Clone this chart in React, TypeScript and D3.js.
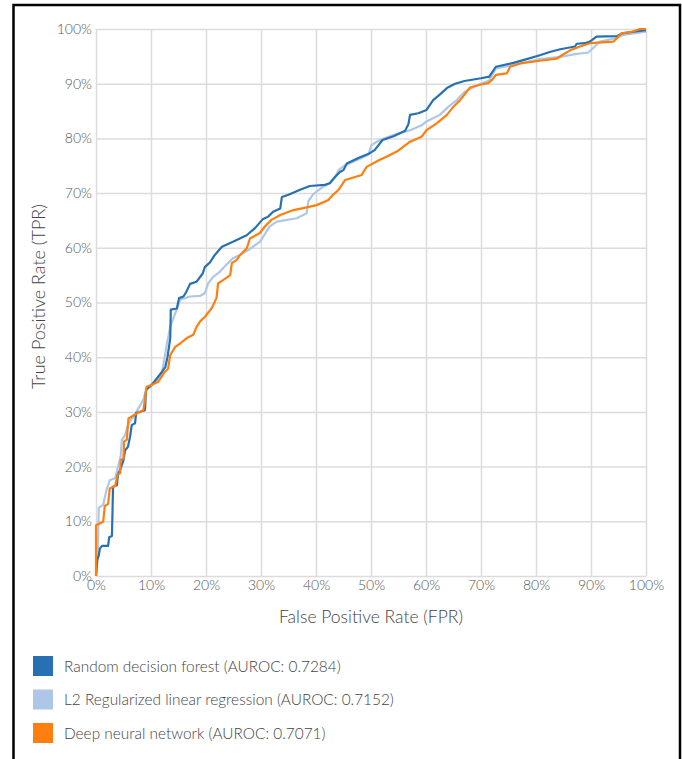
import * as React from 'react';
import * as d3 from 'd3';

// ROC curve points, [FPR %, TPR %]
const forestRoc = [
  [0, 0], [0.2, 2.9], [0.5, 3.7], [0.7, 5], [1.1, 5.5], [2.2, 5.5], [2.4, 7.1], [2.9, 7.3],
  [3.1, 16.3], [3.8, 16.6], [4, 18.6], [4.4, 19.4], [5, 21.2], [5.3, 23], [5.8, 23.6],
  [6.2, 25.5], [6.5, 27.6], [7.1, 27.9], [7.3, 29.8], [8.9, 30.3], [9.1, 34], [10.1, 34.9],
  [11.9, 37.2], [12.6, 38.2], [13, 40], [13.5, 43.5], [13.6, 48.7], [14.7, 48.9], [15.1, 50.8],
  [15.9, 51.1], [16.4, 51.9], [17.1, 53.4], [18.3, 53.8], [19.4, 55.3], [19.8, 56.5], [20.7, 57.3],
  [21.6, 58.7], [22.9, 60.2], [24.9, 61.1], [27.4, 62.3], [28.9, 63.6], [30.3, 65.2], [31.3, 65.7],
  [32.2, 66.6], [33.5, 67.2], [33.8, 69.3], [35, 69.7], [37.1, 70.6], [38.9, 71.3], [41.6, 71.5],
  [42.5, 71.8], [43.5, 73], [44.4, 73.9], [45, 74.2], [45.6, 75.4], [47.7, 76.4], [49.8, 77.3],
  [50.7, 77.9], [52.1, 79.7], [54.1, 80.4], [56.2, 81.4], [56.8, 82.6], [57.1, 84.3], [58.6, 84.6],
  [60.1, 85.2], [61.3, 87], [62.5, 88], [63.8, 89.2], [65.3, 90], [67, 90.5], [70, 91],
  [71.5, 91.3], [72.7, 93.1], [75.9, 93.8], [78.3, 94.5], [80.7, 95.2], [82.5, 95.8], [84.4, 96.3],
  [87.1, 96.8], [87.4, 97.3], [88.9, 97.4], [89.8, 97.7], [91, 98.6], [94.7, 98.7], [95.6, 99.2],
  [97.8, 99.5], [100, 99.8]
];

const linearRoc = [
  [0, 0], [0.3, 3], [0.5, 12.5], [1.3, 13], [1.9, 15.7], [2.5, 17.5], [3.5, 17.9], [3.8, 19.1],
  [4.5, 22], [4.7, 24.9], [5.3, 25.8], [5.9, 27.9], [6.8, 29.1], [8.6, 32.2], [9.2, 34.3],
  [11, 35.8], [11.9, 36.7], [12.5, 40.1], [13, 43.1], [13.1, 43.5], [13.5, 45.6], [14.4, 48],
  [15.3, 50.5], [17.1, 51.1], [18.9, 51.2], [19.8, 51.7], [20.4, 53.5], [21.3, 54.7], [22.5, 55.6],
  [24, 57.2], [24.9, 58.1], [26.2, 58.7], [27.7, 59.6], [29.8, 61.1], [31.6, 63.9], [32.9, 64.8],
  [34.7, 65.1], [36.5, 65.4], [38.3, 66.3], [38.6, 68.5], [39.5, 69.8], [41.3, 71.2], [42.5, 71.8],
  [43.5, 73], [44.1, 74.2], [45.3, 75.1], [47.4, 76], [49.5, 77], [50.1, 78.8], [51.6, 79.7],
  [54.1, 80.6], [57.1, 81.5], [59.2, 82.4], [60.1, 83.1], [62.5, 84.3], [64.1, 85.8], [65.6, 87],
  [67, 88.5], [68.5, 89.3], [70, 90], [71.5, 90.6], [72.7, 92.8], [75.8, 93.4], [80.7, 94.5],
  [84.4, 94.9], [87.1, 95.4], [89.5, 95.7], [90.7, 96.8], [91.6, 97.7], [94.4, 98.3], [95.9, 98.9],
  [100, 99.5]
];

const neuralRoc = [
  [0, 0], [0, 9.3], [1.3, 9.9], [1.6, 12.8], [2.2, 13.2], [2.5, 16], [3.5, 16.5], [3.9, 18.5],
  [4.4, 18.8], [4.5, 21.2], [5, 21.5], [5.1, 24.6], [5.6, 24.9], [5.9, 28.8], [7.4, 29.7],
  [8.6, 30.3], [8.9, 32.2], [9.2, 34.6], [10.1, 34.9], [11.3, 35.5], [11.9, 36.4], [12.5, 37.3],
  [13.1, 37.9], [13.5, 40.4], [14.4, 41.9], [15.3, 42.5], [16.5, 43.5], [17.7, 44.1], [18.3, 45.6],
  [18.9, 46.5], [19.8, 47.4], [21, 48.9], [21.3, 49.5], [21.9, 50.8], [22.2, 53.5], [23.1, 54.1],
  [24.4, 55], [24.7, 57.2], [25.6, 57.8], [26.2, 58.7], [27.4, 59.9], [28, 61.7], [29.8, 62.7],
  [30.7, 63.9], [31.9, 65.1], [33.5, 66], [35.9, 66.9], [38.3, 67.4], [40.1, 67.8], [42.2, 68.7],
  [43.1, 69.7], [44.1, 70.6], [45.3, 72.4], [48.3, 73.3], [49.2, 74.8], [51.6, 76.1], [52.9, 76.7],
  [54.7, 77.6], [57.1, 79.4], [59.2, 80.3], [60.1, 81.5], [62, 82.8], [63.8, 84.3], [65, 85.8],
  [66.2, 87], [67, 88], [68, 89.3], [69.8, 89.8], [71.3, 90.1], [72, 90.7], [72.7, 91.6],
  [74.7, 91.9], [75.3, 93.1], [77.1, 93.7], [80.7, 94.2], [83.8, 94.6], [84.7, 95.2], [86.2, 96.1],
  [88, 96.8], [89.8, 97.4], [94.1, 97.7], [95.6, 99.2], [97.4, 99.5], [98.9, 100], [100, 100]
];

const seriesNames = [
  'Random decision forest (AUROC: 0.7284)',
  'L2 Regularized linear regression (AUROC: 0.7152)',
  'Deep neural network (AUROC: 0.7071)'
];
const seriesColors = ['#2771b2', '#aec7e8', '#ff7f0e'];
const tickValues = [0, 10, 20, 30, 40, 50, 60, 70, 80, 90, 100];

export default class App extends React.Component {

  constructor(params) {
    super(params)

    this.svgRef = React.createRef();
    this.width = 682;
    this.height = 759;
    this.margin = {
      top: 29,
      left: 96,
      right: 36,
      bottom: 183
    };
    this.innerWidth = this.width - this.margin.left - this.margin.right;
    this.innerHeight = this.height - this.margin.top - this.margin.bottom;
  }

  init() {
    const {innerWidth, innerHeight, width, height, margin} = this;

    const svg = d3.select(this.svgRef.current)
      .attr('width', width)
      .attr('height', height)
      .style('font-family', 'Lato, sans-serif');
    svg.selectAll('*').remove();

    // frame around the figure (cut off at the bottom)
    svg.append('path')
      .attr('d', `M13.5,${height} V5 H680 V${height}`)
      .attr('fill', 'none')
      .attr('stroke', '#000')
      .attr('stroke-width', 2.5);

    const xScale = d3.scaleLinear().domain([0, 100]).range([0, innerWidth]);
    const yScale = d3.scaleLinear().domain([0, 100]).range([innerHeight, 0]);

    this.mainGroup = svg.append('g')
      .attr('transform', `translate(${margin.left}, ${margin.top})`);

    this.initAxes(xScale, yScale);

    const line = d3.line()
      .x(d => xScale(d[0]))
      .y(d => yScale(d[1]));

    // drawing order: light blue below, orange on top
    const curves = [
      {data: linearRoc, color: seriesColors[1]},
      {data: forestRoc, color: seriesColors[0]},
      {data: neuralRoc, color: seriesColors[2]}
    ];

    this.mainGroup.append('g').attr('class', 'curves')
      .selectAll('path')
      .data(curves)
      .enter().append('path')
      .attr('fill', 'none')
      .attr('stroke', d => d.color)
      .attr('stroke-width', 2.2)
      .attr('stroke-linejoin', 'round')
      .attr('d', d => line(d.data));

    this.initLegend(svg);
  }

  initAxes(xScale, yScale) {
    const {innerWidth, innerHeight} = this;
    const fmt = d => d + '%';

    const xAxis = d3.axisBottom(xScale)
      .tickValues(tickValues)
      .tickSize(-innerHeight)
      .tickPadding(4)
      .tickFormat(fmt);

    const yAxis = d3.axisLeft(yScale)
      .tickValues(tickValues)
      .tickSize(-innerWidth)
      .tickPadding(4)
      .tickFormat(fmt);

    const styleAxis = g => {
      g.select('.domain').remove();
      g.selectAll('line').attr('stroke', '#dcdcdc').attr('stroke-width', 1.5);
      g.selectAll('text')
        .attr('fill', '#555')
        .style('font-size', '14px')
        .style('font-weight', 300)
        .style('font-family', 'Lato, sans-serif');
    };

    this.mainGroup.append('g')
      .attr('class', 'axis x')
      .attr('transform', `translate(0, ${innerHeight})`)
      .call(xAxis)
      .call(styleAxis);

    this.mainGroup.append('g')
      .attr('class', 'axis y')
      .call(yAxis)
      .call(styleAxis);

    // x axis label
    this.mainGroup.append('text')
      .attr('x', innerWidth / 2)
      .attr('y', innerHeight + 47)
      .attr('fill', '#444')
      .style('font-size', '17.5px')
      .style('font-weight', 300)
      .style('text-anchor', 'middle')
      .text('False Positive Rate (FPR)');

    // y axis label
    this.mainGroup.append('text')
      .attr('transform', `translate(-51, ${innerHeight / 2 - 6}) rotate(-90)`)
      .attr('fill', '#444')
      .style('font-size', '18px')
      .style('font-weight', 300)
      .style('text-anchor', 'middle')
      .text('True Positive Rate (TPR)');
  }

  initLegend(svg) {
    const lineHeight = 33.5;

    const legendEntry = svg.append('g')
      .attr('class', 'legend')
      .attr('transform', 'translate(33, 656)')
      .selectAll('g')
      .data(seriesNames)
      .enter().append('g')
      .attr('transform', (d, i) => `translate(0, ${lineHeight * i})`);

    legendEntry.append('rect')
      .attr('width', 20)
      .attr('height', 20)
      .attr('fill', (d, i) => seriesColors[i]);

    legendEntry.append('text')
      .attr('x', 31)
      .attr('y', 15.5)
      .attr('fill', '#444')
      .style('font-size', '15.4px')
      .style('font-weight', 300)
      .text(d => d);
  }

  componentDidMount() {
    this.init()
  }

  render() {
    return (
      <svg ref={this.svgRef} style={{position: 'absolute', left: 0, top: 0, display: 'block'}} />
    )
  }
}
